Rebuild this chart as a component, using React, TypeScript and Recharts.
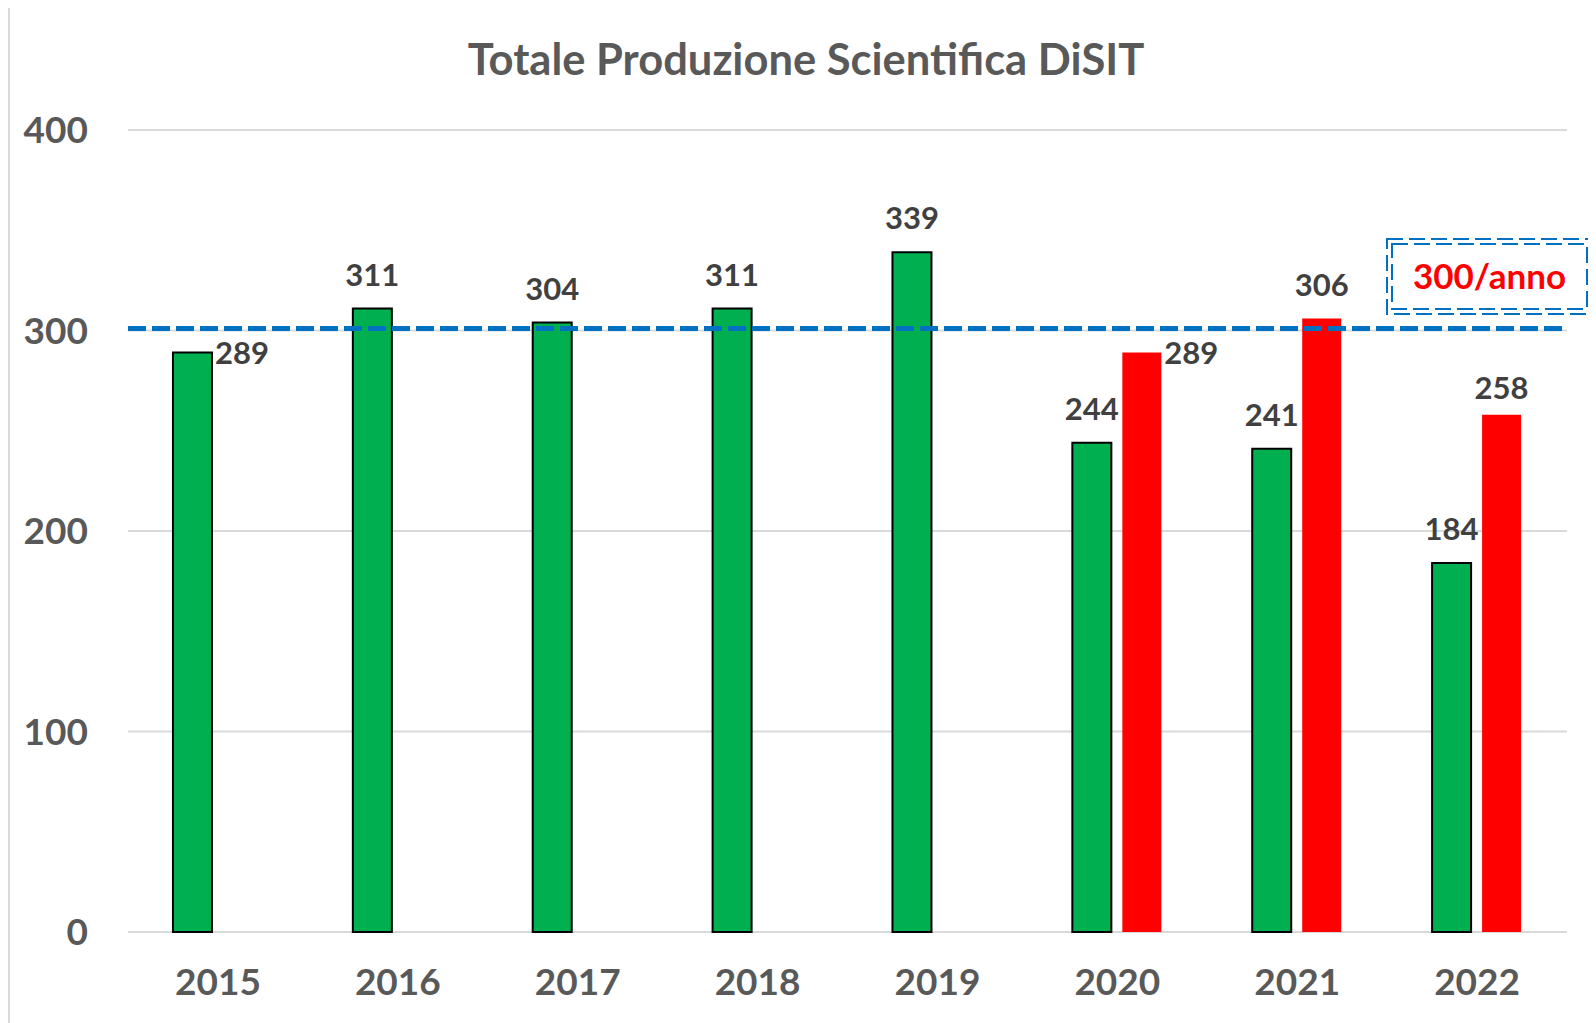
import React from 'react';
import { BarChart, Bar, XAxis, YAxis, CartesianGrid, LabelList, ReferenceLine } from 'recharts';

if (typeof document !== 'undefined') {
  document.documentElement.style.overflow = 'hidden';
}

const years = ['2015', '2016', '2017', '2018', '2019', '2020', '2021', '2022'];
const greenValues = [289, 311, 304, 311, 339, 244, 241, 184];
const redValues: (number | null)[] = [null, null, null, null, null, 289, 306, 258];
const yTicks = [0, 100, 200, 300, 400];
const targetValue = 301;
const title = 'Totale Produzione Scientifica DiSIT';
const targetLabel = '300/anno';

const data = years.map((y, i) => ({ year: y, green: greenValues[i], red: redValues[i] }));

const FONT = 'Lato, "Open Sans", sans-serif';
const AXIS_COLOR = '#595959';
const LABEL_COLOR = '#404040';
const CHART_W = 1586;
const CHART_H = 1015;

// label placement: first drawn label of each series sits to the right of its bar
const makeLabel = (rightSide: number[], offsets: Record<number, number>) => (props: any) => {
  const { x, y, width, value, index } = props;
  if (value === null || value === undefined) return null;
  if (rightSide.includes(index)) {
    return (
      <text x={x + width + 3} y={y} dy="0.36em" textAnchor="start" fill={LABEL_COLOR}
        fontFamily={FONT} fontWeight={700} fontSize={31}>{value}</text>
    );
  }
  const off = offsets[index] ?? 34;
  return (
    <text x={x + width / 2} y={y - off} dy="0.36em" textAnchor="middle" fill={LABEL_COLOR}
      fontFamily={FONT} fontWeight={700} fontSize={31}>{value}</text>
  );
};

const TargetBox = () => {
  const dash = '16 6';
  return (
    <svg width={220} height={95} style={{ position: 'absolute', left: 1370, top: 225, overflow: 'visible' }}>
      <rect x={7} y={6} width={205} height={75} fill="white"
        stroke="#0070C0" strokeWidth={2} strokeDasharray={dash} />
      <rect x={12} y={11} width={195} height={65} fill="none"
        stroke="#0070C0" strokeWidth={2} strokeDasharray={dash} />
      <text x={109.5} y={43.5} dy="0.36em" textAnchor="middle"
        fill="#FF0000" fontFamily={FONT} fontWeight={700} fontSize={35}>{targetLabel}</text>
    </svg>
  );
};

export default function App() {
  return (
    <div style={{
      position: 'relative', marginTop: -2, width: 1590, height: 1020,
      borderTop: '2px solid #d9d9d9', borderLeft: '2px solid #d9d9d9', background: '#fff',
    }}>
      <div style={{
        position: 'absolute', left: 0, width: 1592, top: 25, textAlign: 'center',
        fontFamily: FONT, fontWeight: 700, fontSize: 43.5, lineHeight: '50px', color: AXIS_COLOR,
      }}>{title}</div>
      <BarChart width={CHART_W} height={CHART_H} data={data}
        margin={{ top: 122, right: 29, bottom: 0, left: 0 }}
        barCategoryGap="25%" barGap={11}>
        <CartesianGrid vertical={false} stroke="#d9d9d9" strokeWidth={2} />
        <XAxis dataKey="year" axisLine={false} tickLine={false} tickSize={0} tickMargin={37} height={91}
          tick={{ fill: AXIS_COLOR, fontFamily: FONT, fontWeight: 700, fontSize: 37 }} interval={0} />
        <YAxis domain={[0, 400]} ticks={yTicks} axisLine={false} tickLine={false} tickSize={0}
          tickMargin={40} width={118}
          tick={{ fill: AXIS_COLOR, fontFamily: FONT, fontWeight: 700, fontSize: 37 }} />
        <Bar dataKey="green" fill="#00B050" stroke="#000" strokeWidth={2} isAnimationActive={false}>
          <LabelList dataKey="green" content={makeLabel([0], {})} />
        </Bar>
        <Bar dataKey="red" fill="#FF0000" isAnimationActive={false}>
          <LabelList dataKey="red" content={makeLabel([0], { 2: 27 })} />
        </Bar>
        <ReferenceLine y={targetValue} stroke="#0070C0" strokeWidth={5} strokeDasharray="18 6" />
      </BarChart>
      <TargetBox />
    </div>
  );
}
